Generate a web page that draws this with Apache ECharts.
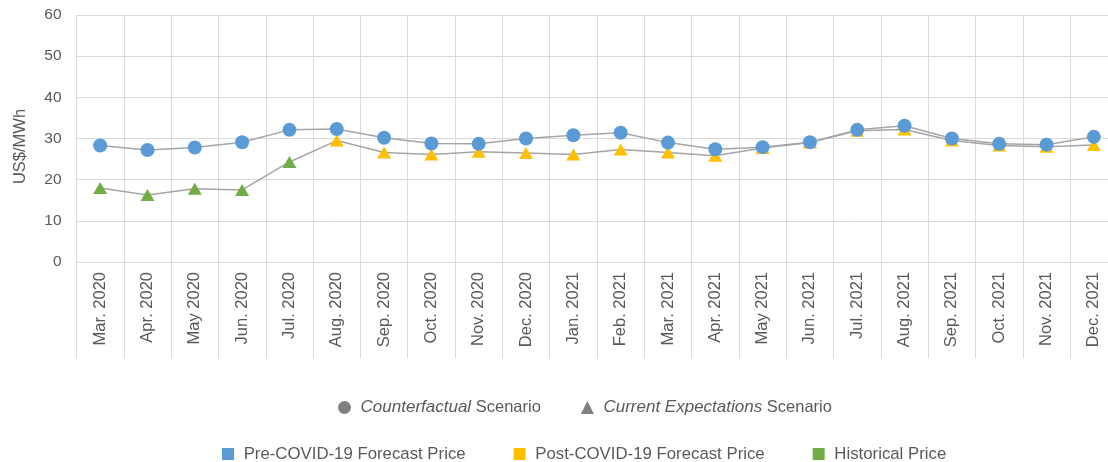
<!DOCTYPE html>
<html>
<head>
<meta charset="utf-8">
<script src="https://cdn.jsdelivr.net/npm/echarts@6/dist/echarts.min.js"></script>
<style>
  html, body { margin: 0; padding: 0; background: #fff; overflow: hidden; }
  #chart { width: 1108px; height: 462px; }
</style>
</head>
<body>
<div id="chart"></div>
<script>
// months on the category axis
const months = ['Mar. 2020', 'Apr. 2020', 'May 2020', 'Jun. 2020', 'Jul. 2020', 'Aug. 2020',
  'Sep. 2020', 'Oct. 2020', 'Nov. 2020', 'Dec. 2020', 'Jan. 2021', 'Feb. 2021',
  'Mar. 2021', 'Apr. 2021', 'May 2021', 'Jun. 2021', 'Jul. 2021', 'Aug. 2021',
  'Sep. 2021', 'Oct. 2021', 'Nov. 2021', 'Dec. 2021']

// Counterfactual scenario (pre-COVID-19 forecast)
const counterfactual = [28.3, 27.2, 27.8, 29.1, 32.1, 32.3, 30.2, 28.8, 28.7, 30.0, 30.8,
  31.4, 29.0, 27.4, 27.9, 29.1, 32.1, 33.1, 30.0, 28.7, 28.5, 30.4]

// Current expectations scenario (historical, then post-COVID-19 forecast)
const currentExpectations = [18.0, 16.3, 17.8, 17.5, 24.3, 29.5, 26.6, 26.1, 26.8, 26.5, 26.1,
  27.3, 26.6, 25.8, 27.7, 29.0, 31.9, 32.2, 29.5, 28.3, 28.0, 28.4]

// first points of the current expectations line are historical prices
const historicalCount = 5

const yTicks = { min: 0, max: 60, interval: 10 }

const BLUE = '#5B9BD5'
const YELLOW = '#FFC000'
const GREEN = '#70AD47'
const LABEL = '#595959'
const GRID = '#D9D9D9'

const chart = echarts.init(document.getElementById('chart'))

const currentData = currentExpectations.map((v, i) => ({
  value: v,
  itemStyle: { color: i < historicalCount ? GREEN : YELLOW }
}))

// empty series, only there to give the legends their entries
function legendOnly(name, color) {
  return { name: name, type: 'scatter', data: [], itemStyle: { color: color, opacity: 1 } }
}

const option = {
  animation: false,
  textStyle: { fontFamily: 'Liberation Sans, Arial, sans-serif' },
  grid: {
    left: 76.5,
    top: 15,
    width: 1041, // last column runs past the right edge, as in the original
    bottom: 200,
    outerBoundsMode: 'none'
  },
  legend: [
    {
      left: 333,
      top: 394,
      itemWidth: 13,
      itemHeight: 13,
      itemGap: 40,
      selectedMode: false,
      data: [
        { name: 'Counterfactual Scenario', icon: 'circle' },
        { name: 'Current Expectations Scenario', icon: 'triangle' }
      ],
      formatter: function(name) {
        if (name === 'Counterfactual Scenario') return ' {i|Counterfactual} Scenario'
        return ' {i|Current Expectations} Scenario'
      },
      textStyle: {
        color: LABEL,
        fontSize: 16.5,
        rich: {
          i: { fontStyle: 'italic', color: LABEL, fontSize: 17 }
        }
      }
    },
    {
      left: 217,
      top: 440.5,
      itemWidth: 12,
      itemHeight: 12,
      itemGap: 48,
      selectedMode: false,
      icon: 'rect',
      data: ['Pre-COVID-19 Forecast Price', 'Post-COVID-19 Forecast Price', 'Historical Price'],
      formatter: ' {name}',
      textStyle: { color: LABEL, fontSize: 16.8 }
    }
  ],
  xAxis: {
    type: 'category',
    data: months,
    boundaryGap: true,
    axisLine: { lineStyle: { color: GRID } },
    axisTick: { show: true, length: 96, lineStyle: { color: GRID } },
    splitLine: { show: true, lineStyle: { color: GRID } },
    axisLabel: {
      rotate: 90,
      color: LABEL,
      fontSize: 16.5,
      margin: 10,
      interval: 0
    }
  },
  yAxis: {
    type: 'value',
    min: yTicks.min,
    max: yTicks.max,
    interval: yTicks.interval,
    name: 'US$/MWh',
    nameLocation: 'middle',
    nameGap: 48,
    nameTextStyle: { color: LABEL, fontSize: 16.5, padding: [0, 16, 0, 0] },
    axisLine: { show: false },
    axisTick: { show: false },
    splitLine: { lineStyle: { color: GRID } },
    axisLabel: { color: LABEL, fontSize: 15.5, margin: 15 }
  },
  series: [
    {
      name: 'currentExpectations',
      type: 'line',
      data: currentData,
      symbol: 'triangle',
      symbolSize: [14, 12],
      lineStyle: { color: '#A5A5A5', width: 1.5 },
      z: 2
    },
    {
      name: 'counterfactual',
      type: 'line',
      data: counterfactual,
      symbol: 'circle',
      symbolSize: 14,
      itemStyle: { color: BLUE },
      lineStyle: { color: '#A5A5A5', width: 1.5 },
      z: 3
    },
    legendOnly('Counterfactual Scenario', '#7F7F7F'),
    legendOnly('Current Expectations Scenario', '#7F7F7F'),
    legendOnly('Pre-COVID-19 Forecast Price', BLUE),
    legendOnly('Post-COVID-19 Forecast Price', YELLOW),
    legendOnly('Historical Price', GREEN)
  ]
}

chart.setOption(option)
</script>
</body>
</html>
